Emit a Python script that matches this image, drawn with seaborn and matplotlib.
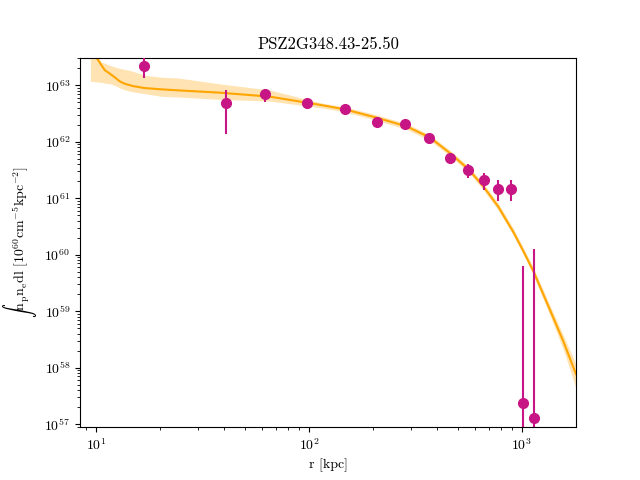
import numpy as np
import matplotlib
matplotlib.use("Agg")
import matplotlib.pyplot as plt
import seaborn as sns
from matplotlib.ticker import LogLocator, NullFormatter, FixedLocator

plt.rcParams['font.family'] = 'serif'
plt.rcParams['font.serif'] = ['cmr10']
plt.rcParams['mathtext.fontset'] = 'cm'
plt.rcParams['axes.formatter.use_mathtext'] = True

# observed data points
r_data = [16.8, 40.8, 62.0, 97.9, 147.6, 209, 283, 367, 460, 560, 664, 771, 887, 1014, 1143]
y_data = [2.2e63, 4.8e62, 6.9e62, 4.79e62, 3.86e62, 2.2e62, 2.03e62, 1.18e62,
          5.2e61, 3.2e61, 2.1e61, 1.48e61, 1.48e61, 2.4e57, 1.3e57]
y_err = [0.87e63, 3.4e62, 1.8e62, 0.6e62, 0.3e62, 0.15e62, 0.15e62, 0.1e62,
         0.8e61, 0.9e61, 0.7e61, 0.6e61, 0.6e61, 6.3e59, 1.26e60]

# model median and band
r_model = [9.4, 10.0, 10.6, 11.0, 11.6, 12.2, 12.9, 13.6, 14.9, 16.9, 20.3, 24.3,
           38.2, 65.6, 112.7, 147.6, 208, 288, 370, 459, 560, 658, 774, 910,
           1014, 1130, 1352, 1563, 1795]
y_med = [4.73e63, 3.18e63, 2.26e63, 1.85e63, 1.61e63, 1.40e63, 1.18e63, 1.07e63,
         9.7e62, 8.95e62, 8.49e62, 8.15e62, 7.41e62, 6.30e62, 4.51e62, 3.75e62,
         2.67e62, 1.87e62, 1.19e62, 6.32e61, 3.29e61, 1.63e61, 7.10e60, 2.55e60,
         1.17e60, 5.18e59, 1.07e59, 2.96e58, 7.67e57]
y_hi = [6.56e63, 3.56e63, 2.56e63, 2.46e63, 2.26e63, 2.13e63, 2.00e63, 1.92e63,
        1.77e63, 1.51e63, 1.39e63, 1.35e63, 1.06e63, 8.26e62, 4.93e62, 4.15e62,
        2.99e62, 2.09e62, 1.33e62, 7.06e61, 3.72e61, 1.85e61, 8.18e60, 2.94e60,
        1.35e60, 5.97e59, 1.29e59, 3.78e58, 1.15e58]
y_lo = [1.18e63, 1.15e63, 1.13e63, 1.09e63, 1.07e63, 1.00e63, 9.03e62, 8.32e62,
        7.67e62, 7.13e62, 6.38e62, 6.20e62, 5.64e62, 5.26e62, 4.02e62, 3.38e62,
        2.39e62, 1.65e62, 1.05e62, 5.64e61, 2.91e61, 1.42e61, 6.15e60, 2.21e60,
        1.02e60, 4.40e59, 8.57e58, 2.13e58, 4.33e57]

# tick decades
x_ticks = [1e1, 1e2, 1e3]
y_ticks = [1e57, 1e58, 1e59, 1e60, 1e61, 1e62, 1e63]

fig, ax = plt.subplots(figsize=(6.4, 4.8), dpi=100)
ax.set_xscale('log')
ax.set_yscale('log')

ax.fill_between(r_model, y_lo, y_hi, color='orange', alpha=0.3, linewidth=0)
sns.lineplot(x=r_model, y=y_med, ax=ax, color='orange', linewidth=1.5, sort=False,
             estimator=None)
ax.errorbar(r_data, y_data, yerr=y_err, fmt='o', color='mediumvioletred',
            markersize=7, elinewidth=1.5, capsize=0, zorder=5)

ax.set_xlim(8.4, 1795)
ax.set_ylim(8.8e56, 3.1e63)
ax.xaxis.set_major_locator(FixedLocator(x_ticks))
ax.yaxis.set_major_locator(FixedLocator(y_ticks))
ax.yaxis.set_minor_locator(LogLocator(base=10, subs=np.arange(2, 10), numticks=20))
ax.xaxis.set_minor_formatter(NullFormatter())
ax.yaxis.set_minor_formatter(NullFormatter())

ax.set_xlabel('r [kpc]')
ax.set_ylabel(r'$\int\mathrm{n_p n_e dl}\ [10^{60}\mathrm{cm^{-5}kpc^{-2}}]$')
ax.set_title('PSZ2G348.43-25.50')

fig.savefig('out.png', dpi=100)
